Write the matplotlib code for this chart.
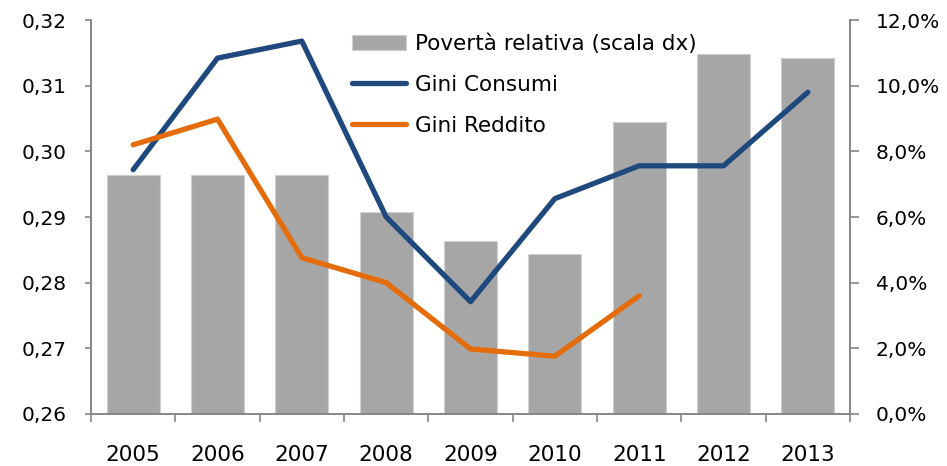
import matplotlib.pyplot as plt
import numpy as np
from matplotlib.ticker import FuncFormatter

anni = ['2005', '2006', '2007', '2008', '2009', '2010', '2011', '2012', '2013']
poverta_relativa = [7.28, 7.28, 7.28, 6.16, 5.27, 4.86, 8.89, 10.96, 10.84]
gini_consumi = [0.2972, 0.3142, 0.3168, 0.2900, 0.2771, 0.2928, 0.2978, 0.2978, 0.3090]
gini_reddito = [0.3010, 0.3049, 0.2838, 0.2800, 0.2699, 0.2688, 0.2780]

plt.rcParams['font.family'] = 'DejaVu Sans'
grigio_assi = '#868686'

fig = plt.figure(figsize=(9.47, 4.66), dpi=100)
ax = fig.add_axes([0.0961, 0.1116, 0.8015, 0.8454])
ax2 = ax.twinx()

x = np.arange(len(anni))
barre = ax2.bar(x, poverta_relativa, width=0.63, color='#A6A6A6',
                edgecolor='#D0D0D0', linewidth=0.8, label='Povertà relativa (scala dx)')
l1, = ax.plot(x, gini_consumi, color='#1F497D', lw=3.8, solid_capstyle='round',
              label='Gini Consumi')
l2, = ax.plot(x[:len(gini_reddito)], gini_reddito, color='#E46C0A', lw=3.8,
              solid_capstyle='round', label='Gini Reddito')

# linee sopra le barre
ax.set_zorder(ax2.get_zorder() + 1)
ax.patch.set_visible(False)

ax.set_xlim(-0.5, len(anni) - 0.5)
ax.set_ylim(0.26, 0.32)
ax2.set_ylim(0, 12)
ax.set_yticks(np.arange(0.26, 0.3201, 0.01))
ax2.set_yticks(np.arange(0, 12.1, 2))
ax.yaxis.set_major_formatter(FuncFormatter(lambda v, p: f'{v:.2f}'.replace('.', ',')))
ax2.yaxis.set_major_formatter(FuncFormatter(lambda v, p: f'{v:.1f}%'.replace('.', ',')))

ax.set_xticks(x)
ax.set_xticklabels(anni)
ax.set_xticks(np.arange(-0.5, len(anni)), minor=True)
ax.tick_params(axis='x', which='major', length=0, pad=22, labelsize=15.5)
ax.tick_params(axis='x', which='minor', length=6, width=1.2, color=grigio_assi)
ax.tick_params(axis='y', length=4.5, width=1.2, color=grigio_assi, pad=13, labelsize=14.5)
ax2.tick_params(axis='y', length=6.5, width=1.2, color=grigio_assi, pad=12, labelsize=14.5)

for a in (ax, ax2):
    a.spines['top'].set_visible(False)
    for s in ('left', 'right', 'bottom'):
        a.spines[s].set_color(grigio_assi)
        a.spines[s].set_linewidth(1.2)

fig.legend(handles=[barre, l1, l2], loc='upper left', bbox_to_anchor=(0.372, 0.929),
           frameon=False, fontsize=15.5, handlelength=2.5, handletextpad=0.4,
           labelspacing=0.98, borderpad=0, borderaxespad=0)

fig.savefig('out.png', dpi=100)
